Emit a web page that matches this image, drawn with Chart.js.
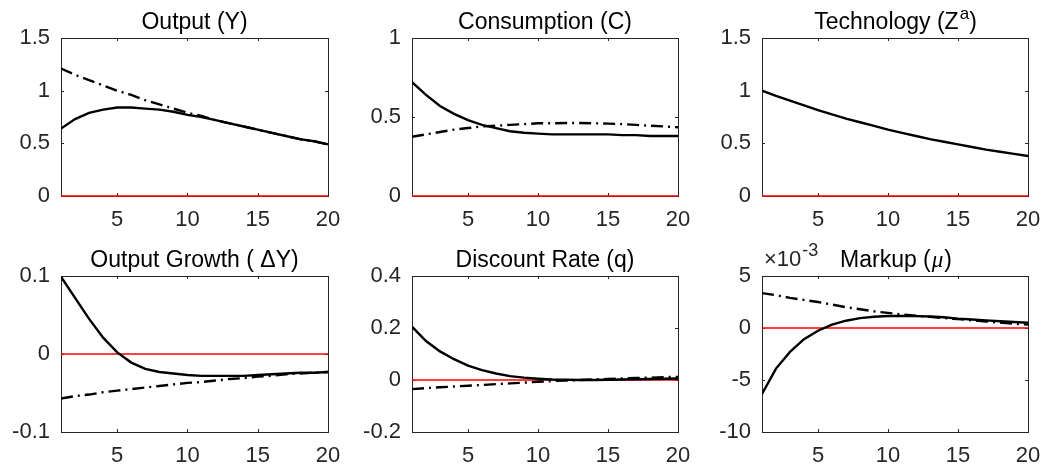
<!DOCTYPE html>
<html>
<head>
<meta charset="utf-8">
<script src="https://cdn.jsdelivr.net/npm/chart.js@4.4.1/dist/chart.umd.min.js"></script>
<style>
    html, body { margin: 0; padding: 0; background: #fff; }
    body { width: 1045px; height: 470px; position: relative; overflow: hidden; }
    canvas { position: absolute; }
</style>
</head>
<body>
<canvas id="cY"></canvas>
<canvas id="cC"></canvas>
<canvas id="cZ"></canvas>
<canvas id="cDY"></canvas>
<canvas id="cQ"></canvas>
<canvas id="cMu"></canvas>
<script>
// ====== Data ======
const periods = [1, 2, 3, 4, 5, 6, 7, 8, 9, 10, 11, 12, 13, 14, 15, 16, 17, 18, 19, 20];
const xTicks = [5, 10, 15, 20];

const outputSolid = [0.64, 0.73, 0.79, 0.82, 0.84, 0.84, 0.83, 0.82, 0.80, 0.77, 0.75, 0.72, 0.69, 0.66, 0.63, 0.60, 0.57, 0.54, 0.52, 0.49];
const outputDash  = [1.21, 1.15, 1.10, 1.05, 1.00, 0.96, 0.91, 0.87, 0.83, 0.79, 0.76, 0.72, 0.69, 0.66, 0.63, 0.60, 0.57, 0.54, 0.52, 0.49];
const outputTicks = [0, 0.5, 1, 1.5];

const consSolid = [0.72, 0.64, 0.57, 0.52, 0.48, 0.45, 0.43, 0.41, 0.40, 0.395, 0.39, 0.39, 0.39, 0.39, 0.39, 0.385, 0.385, 0.38, 0.38, 0.38];
const consDash  = [0.375, 0.39, 0.405, 0.42, 0.43, 0.44, 0.445, 0.45, 0.455, 0.46, 0.46, 0.462, 0.462, 0.46, 0.458, 0.455, 0.45, 0.445, 0.44, 0.435];
const consTicks = [0, 0.5, 1];

const techSolid = [1.00, 0.95, 0.905, 0.86, 0.815, 0.775, 0.735, 0.70, 0.665, 0.63, 0.60, 0.57, 0.54, 0.515, 0.49, 0.465, 0.44, 0.42, 0.40, 0.38];
const techTicks = [0, 0.5, 1, 1.5];

const growthSolid = [0.099, 0.072, 0.045, 0.021, 0.002, -0.011, -0.019, -0.023, -0.025, -0.027, -0.028, -0.028, -0.028, -0.028, -0.027, -0.026, -0.025, -0.024, -0.024, -0.023];
const growthDash  = [-0.057, -0.054, -0.052, -0.049, -0.047, -0.045, -0.043, -0.041, -0.039, -0.037, -0.036, -0.034, -0.032, -0.031, -0.029, -0.028, -0.026, -0.025, -0.024, -0.023];
const growthTicks = [-0.1, 0, 0.1];

const discSolid = [0.205, 0.15, 0.11, 0.08, 0.055, 0.038, 0.025, 0.015, 0.009, 0.005, 0.002, 0.001, 0.0, 0.0, 0.001, 0.002, 0.003, 0.004, 0.005, 0.006];
const discDash  = [-0.035, -0.031, -0.028, -0.025, -0.022, -0.019, -0.016, -0.013, -0.010, -0.007, -0.004, -0.002, 0.0, 0.002, 0.004, 0.006, 0.008, 0.009, 0.011, 0.012];
const discTicks = [-0.2, 0, 0.2, 0.4];

const markupSolid = [-0.00635, -0.0039, -0.0023, -0.00107, -0.00026, 0.00032, 0.0007, 0.00095, 0.00108, 0.00115, 0.00116, 0.00114, 0.0011, 0.00103, 0.0009, 0.00082, 0.00073, 0.00065, 0.00057, 0.0005];
const markupDash  = [0.00335, 0.00315, 0.0029, 0.0027, 0.0025, 0.00225, 0.002, 0.0018, 0.0016, 0.00145, 0.0013, 0.00118, 0.00107, 0.00096, 0.00085, 0.00074, 0.00063, 0.00052, 0.00042, 0.00032];
const markupTicks = [-0.01, -0.005, 0, 0.005];

// ====== Layout ======
const AXIS = '#262626';
const FONT = "'Liberation Sans', Arial, Helvetica, sans-serif";
const cols = [[61, 328], [412, 678], [762, 1028]];
const rows = [[38, 196], [276, 432]];
const PAD_L = 61, PAD_T = 38, PAD_R = 16, PAD_B = 38;

// box with inward ticks on all four sides (MATLAB style)
const boxPlugin = {
    id: 'box',
    beforeDatasetsDraw(chart) {
        const { ctx, chartArea: a, scales } = chart;
        ctx.save();
        ctx.strokeStyle = AXIS;
        ctx.lineWidth = 1;
        ctx.strokeRect(a.left + 0.5, a.top + 0.5, a.right - a.left, a.bottom - a.top);
        ctx.beginPath();
        scales.x.ticks.forEach(t => {
            const x = Math.round(scales.x.getPixelForValue(t.value)) + 0.5;
            ctx.moveTo(x, a.bottom); ctx.lineTo(x, a.bottom - 3);
            ctx.moveTo(x, a.top); ctx.lineTo(x, a.top + 3);
        });
        scales.y.ticks.forEach(t => {
            const y = Math.round(scales.y.getPixelForValue(t.value)) + 0.5;
            ctx.moveTo(a.left, y); ctx.lineTo(a.left + 3, y);
            ctx.moveTo(a.right, y); ctx.lineTo(a.right - 3, y);
        });
        ctx.stroke();
        ctx.restore();
    }
};

// title made of text pieces (superscripts, italic greek)
function drawPieces(ctx, pieces, x, y, align, size, supRatio = 0.72) {
    const fontOf = p => {
        const s = p.sup ? Math.round(size * supRatio) : size;
        const fam = p.greek ? "'Liberation Serif', 'DejaVu Serif', serif" : FONT;
        return (p.italic ? 'italic ' : '') + s + 'px ' + fam;
    };
    let total = 0;
    pieces.forEach(p => { ctx.font = fontOf(p); p.w = ctx.measureText(p.t).width; total += p.w; });
    let cx = align === 'center' ? x - total / 2 : x;
    ctx.textAlign = 'left';
    ctx.textBaseline = 'alphabetic';
    pieces.forEach(p => {
        ctx.font = fontOf(p);
        ctx.fillText(p.t, cx, p.sup ? y - size * 0.45 : y);
        cx += p.w + (p.sup ? 0 : 1);
    });
}

const titlePlugin = {
    id: 'ptitle',
    afterDraw(chart) {
        const o = chart.options.plugins.ptitle;
        const { ctx, chartArea: a } = chart;
        ctx.save();
        ctx.fillStyle = '#000';
        drawPieces(ctx, o.pieces, (a.left + a.right) / 2, a.top - 9, 'center', 23);
        if (o.exponent) {
            ctx.fillStyle = AXIS;
            drawPieces(ctx, o.exponent, a.left + 2, a.top - 10, 'left', 22, 0.8);
        }
        ctx.restore();
    }
};

function makePanel(id, col, row, yTicks, solid, dash, pieces, opts = {}) {
    const [L, R] = cols[col];
    const [T, B] = rows[row];
    const cv = document.getElementById(id);
    cv.width = (R - L) + PAD_L + PAD_R;
    cv.height = (B - T) + PAD_T + PAD_B;
    cv.style.left = (L - PAD_L) + 'px';
    cv.style.top = (T - PAD_T) + 'px';

    const pts = arr => periods.map((p, i) => ({ x: p, y: arr[i] }));
    const datasets = [];
    if (dash) datasets.push({
        data: pts(dash), borderColor: '#000', borderWidth: 2.4,
        borderDash: [12, 5, 2, 5], pointRadius: 0, tension: 0
    });
    datasets.push({
        data: pts(solid), borderColor: '#000', borderWidth: 2.4,
        pointRadius: 0, tension: 0
    });
    datasets.push({
        data: periods.map(p => ({ x: p, y: 0 })), borderColor: '#ff0000', borderWidth: 1.5,
        pointRadius: 0, tension: 0, clip: false
    });

    new Chart(cv, {
        type: 'line',
        data: { datasets },
        options: {
            responsive: false,
            animation: false,
            devicePixelRatio: 1,
            layout: { padding: { left: 0, top: PAD_T, right: PAD_R, bottom: 0 } },
            plugins: {
                legend: { display: false },
                tooltip: { enabled: false },
                ptitle: { pieces, exponent: opts.exponent }
            },
            scales: {
                x: {
                    type: 'linear', min: 1, max: 20,
                    grid: { display: false, drawTicks: false },
                    border: { display: false },
                    afterBuildTicks: ax => { ax.ticks = xTicks.map(v => ({ value: v })); },
                    afterFit: ax => { ax.height = PAD_B; ax.paddingLeft = 0; ax.paddingRight = 0; },
                    ticks: { color: AXIS, font: { family: FONT, size: 22 }, padding: 11, maxRotation: 0 }
                },
                y: {
                    type: 'linear', min: yTicks[0], max: yTicks[yTicks.length - 1],
                    grid: { display: false, drawTicks: false },
                    border: { display: false },
                    afterBuildTicks: ax => { ax.ticks = yTicks.map(v => ({ value: v })); },
                    afterFit: ax => { ax.width = PAD_L; ax.paddingTop = 0; ax.paddingBottom = 0; },
                    ticks: {
                        color: AXIS, font: { family: FONT, size: 22 }, padding: 11,
                        callback: opts.scale ? v => String(Math.round(v * opts.scale)) : v => String(v)
                    }
                }
            }
        },
        plugins: [boxPlugin, titlePlugin]
    });
}

makePanel('cY', 0, 0, outputTicks, outputSolid, outputDash, [{ t: 'Output (Y)' }]);
makePanel('cC', 1, 0, consTicks, consSolid, consDash, [{ t: 'Consumption (C)' }]);
makePanel('cZ', 2, 0, techTicks, techSolid, null,
    [{ t: 'Technology (Z' }, { t: 'a', sup: true }, { t: ')' }]);
makePanel('cDY', 0, 1, growthTicks, growthSolid, growthDash, [{ t: 'Output Growth ( \u0394Y)' }]);
makePanel('cQ', 1, 1, discTicks, discSolid, discDash, [{ t: 'Discount Rate (q)' }]);
makePanel('cMu', 2, 1, markupTicks, markupSolid, markupDash,
    [{ t: 'Markup (' }, { t: '\u03BC', italic: true, greek: true }, { t: ')' }],
    { scale: 1000, exponent: [{ t: '\u00D710' }, { t: '-3', sup: true }] });
</script>
</body>
</html>
